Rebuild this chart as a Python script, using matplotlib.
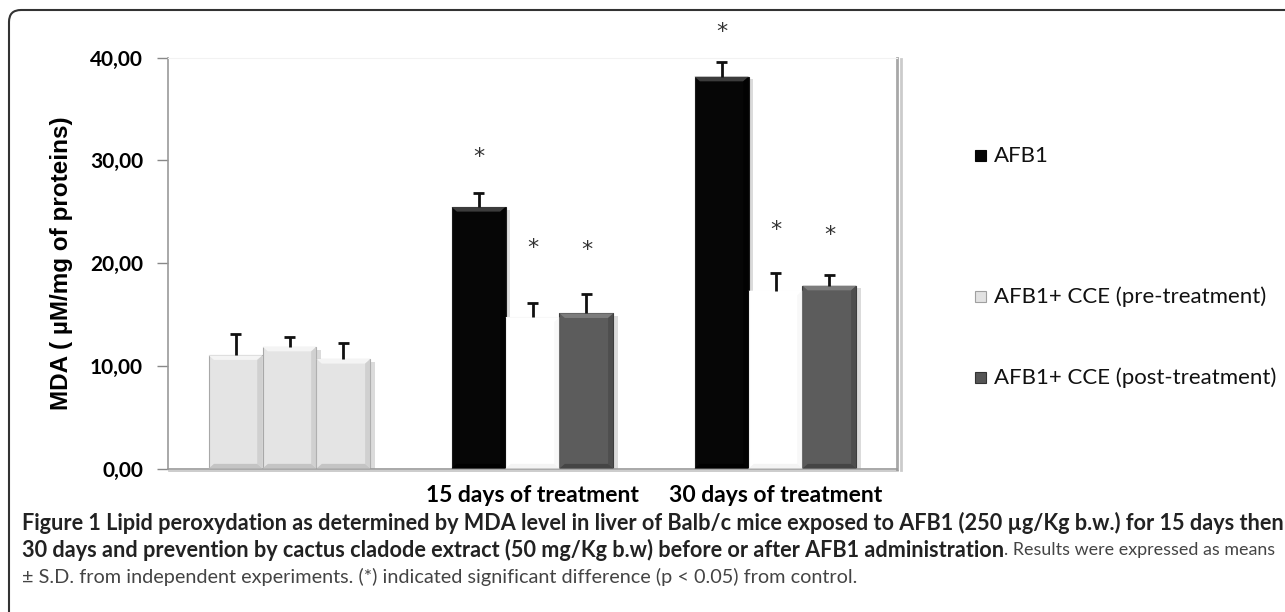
import matplotlib

matplotlib.use("Agg")
import matplotlib.pyplot as plt
import matplotlib.patheffects as pe
import numpy as np
from matplotlib.patches import FancyBboxPatch, Polygon, Rectangle

# valores
groups = ["", "15 days of treatment", "30 days of treatment"]
series_names = ["AFB1", "AFB1+ CCE (pre-treatment)", "AFB1+ CCE (post-treatment)"]
mda_s1 = [11.02, 25.45, 38.13]
mda_s2 = [11.85, 14.71, 17.30]
mda_s3 = [10.66, 15.10, 17.79]
sd_s1 = [2.07, 1.33, 1.40]
sd_s2 = [0.98, 1.43, 1.76]
sd_s3 = [1.52, 1.85, 1.01]
star_s1 = [None, 30.35, 42.45]
star_s2 = [None, 21.43, 23.20]
star_s3 = [None, 21.27, 22.70]
yticks = [0, 10, 20, 30, 40]

values = [mda_s1, mda_s2, mda_s3]
errors = [sd_s1, sd_s2, sd_s3]
stars = [star_s1, star_s2, star_s3]

# estilo (cara, bisel superior, bisel inferior, borde) por serie; grupo control en gris claro
ctrl_style = ("#e4e4e4", "#f4f4f4", "#c4c4c4", "#a8a8a8")
series_style = [
    ("#060606", "#3c3c3c", "#000000", "#1a1a1a"),
    ("#ffffff", "#ffffff", "#f4f4f4", "#eeeeee"),
    ("#5c5c5c", "#7c7c7c", "#454545", "#3c3c3c"),
]
legend_faces = [("#060606", "#060606"), ("#e2e2e2", "#a0a0a0"), ("#555555", "#333333")]

fig = plt.figure(figsize=(12.85, 6.12), dpi=100)
ax = fig.add_axes([168 / 1285, 1 - 468.5 / 612, (897 - 168) / 1285, (468.5 - 57.5) / 612])

x = np.arange(len(groups))
width = 0.222
cap = 0.022
shadow = [pe.SimplePatchShadow(offset=(3, -2), shadow_rgbFace="#888888", alpha=0.3), pe.Normal()]
bx, by = 0.022, 0.45  # tamano del bisel en unidades de datos

for i, (vals, errs, sts) in enumerate(zip(values, errors, stars)):
    xs = x + (i - 1) * width
    vals = np.asarray(vals)
    tops = vals + np.asarray(errs)
    for j, (xc, v) in enumerate(zip(xs, vals)):
        face, top, bot, edge = ctrl_style if j == 0 else series_style[i]
        bar = ax.bar(xc, v, width=width, color=face, edgecolor=edge, linewidth=0.8, zorder=2)
        for p in bar:
            p.set_path_effects(shadow)
        x0, x1 = xc - width / 2, xc + width / 2
        ax.add_patch(Polygon([(x0, v), (x1, v), (x1 - bx, v - by), (x0 + bx, v - by)],
                             closed=True, color=top, lw=0, zorder=3))
        ax.add_patch(Polygon([(x0, 0), (x1, 0), (x1 - bx, by), (x0 + bx, by)],
                             closed=True, color=bot, lw=0, zorder=3))
        ax.add_patch(Polygon([(x1, 0), (x1, v), (x1 - bx, v - by), (x1 - bx, by)],
                             closed=True, color=bot, lw=0, zorder=3, alpha=0.6))
    # solo barra de error superior
    ax.vlines(xs, vals, tops, color="#111111", lw=2, zorder=4)
    ax.hlines(tops, xs - cap, xs + cap, color="#111111", lw=2, zorder=4)
    for xc, s in zip(xs, sts):
        if s is not None:
            ax.text(xc, s, "*", ha="center", va="center", fontsize=16, color="#333333",
                    family="DejaVu Sans", clip_on=False)

ax.set_xlim(-0.5, 2.5)
ax.set_ylim(0, 40)
ax.set_yticks(yticks)
ax.set_yticklabels([f"{t:.2f}".replace(".", ",") for t in yticks], fontsize=15,
                   fontweight="bold", family="Lato")
ax.tick_params(axis="y", length=8, width=1, color="#888888", pad=10)
ax.set_xticks(x)
ax.set_xticklabels(groups, fontsize=16.5, fontweight="bold", family="Lato")
ax.tick_params(axis="x", length=0, pad=12)
ax.set_ylabel("MDA ( µM/mg of proteins)", fontsize=17.5, fontweight="bold",
              family="Liberation Sans", labelpad=12)

for side in ("left", "bottom"):
    ax.spines[side].set_color("#999999")
    ax.spines[side].set_linewidth(1.2)
ax.spines["bottom"].set_path_effects(
    [pe.SimpleLineShadow(offset=(1, -2), shadow_color="#888888", alpha=0.5), pe.Normal()])
ax.spines["right"].set_color("#a8a8a8")
ax.spines["right"].set_linewidth(2)
ax.spines["right"].set_path_effects(
    [pe.SimpleLineShadow(offset=(3, -1), shadow_color="#999999", alpha=0.5), pe.Normal()])
ax.spines["top"].set_color("#f2f2f2")

# leyenda manual (espaciado irregular como en el original)
legend_y = [156, 297, 378]
for name, (fc, ec), yy in zip(series_names, legend_faces, legend_y):
    fig.patches.append(Rectangle((975, 612 - yy - 5), 11, 11, transform=None,
                                 facecolor=fc, edgecolor=ec, lw=0.8))
    fig.text(994 / 1285, 1 - yy / 612, name, fontsize=16, family="Lato",
             va="center", ha="left", color="#111111")

# marco redondeado
fig.patches.append(FancyBboxPatch((9, -60), 1400, 612 - 10 + 60, transform=None,
                                  boxstyle="round,pad=0,rounding_size=12",
                                  facecolor="none", edgecolor="#333333", lw=1.5))

# pie de figura: tamano ajustado para que la primera linea llene el ancho
cap_kw = dict(family="Lato", va="center")
line1 = ("Figure 1 Lipid peroxydation as determined by MDA level in liver of Balb/c mice "
         "exposed to AFB1 (250 µg/Kg b.w.) for 15 days then")
t1 = fig.text(22 / 1285, 1 - 523 / 612, line1, fontweight="bold", fontsize=12,
              color="#222222", ha="left", **cap_kw)
fig.canvas.draw()
fs = 12 * (1275 - 22) / t1.get_window_extent().width
t1.set_fontsize(fs)
t2 = fig.text(22 / 1285, 1 - 550 / 612,
              "30 days and prevention by cactus cladode extract (50 mg/Kg b.w) before or after "
              "AFB1 administration", fontweight="bold", fontsize=fs, color="#222222",
              ha="left", **cap_kw)
t3 = fig.text(1275 / 1285, 1 - 550 / 612, ". Results were expressed as means",
              fontsize=fs * 0.92, color="#444444", ha="right", **cap_kw)
fig.canvas.draw()
room = 1275 - t2.get_window_extent().x1 - 2
need = t3.get_window_extent().width
if need > room:
    t3.set_fontsize(fs * 0.92 * room / need)
fig.text(22 / 1285, 1 - 577 / 612,
         "± S.D. from independent experiments. (*) indicated significant difference "
         "(p < 0.05) from control.", fontsize=fs * 0.92, color="#444444", ha="left", **cap_kw)

fig.savefig("out.png", dpi=100)
